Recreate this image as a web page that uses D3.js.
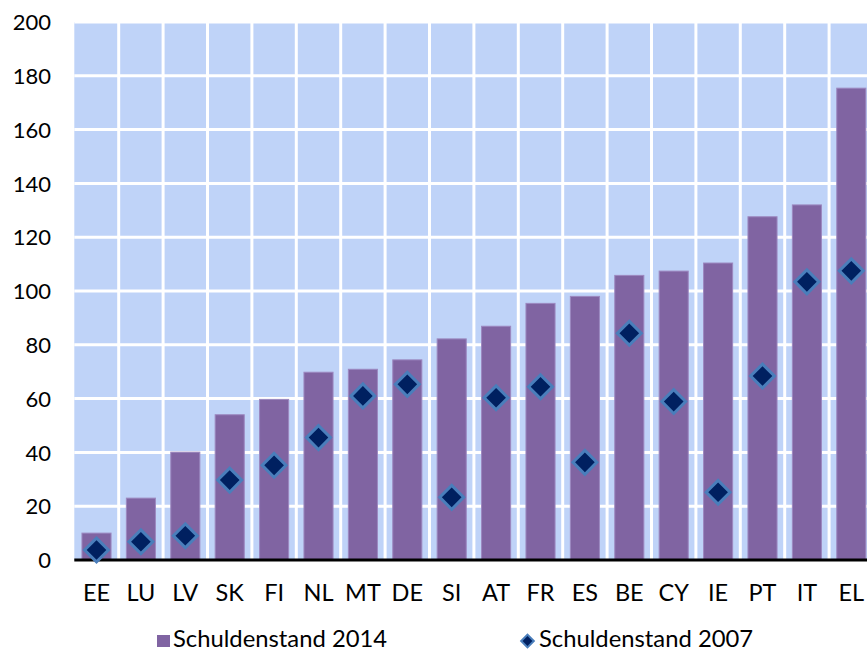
<!DOCTYPE html>
<html>
<head>
<meta charset="utf-8">
<script src="https://cdn.jsdelivr.net/npm/d3@7"></script>
<style>
  html, body { margin: 0; padding: 0; background: #ffffff; }
  svg { display: block; }
  text { font-family: "Lato", "Open Sans", sans-serif; fill: #000; }
</style>
</head>
<body>
<svg id="chart" width="867" height="652"></svg>
<script>
const categories = ["EE","LU","LV","SK","FI","NL","MT","DE","SI","AT","FR","ES","BE","CY","IE","PT","IT","EL"];
const debt2014 = [10, 23, 40.1, 54, 59.7, 69.8, 70.9, 74.4, 82.2, 86.9, 95.4, 98, 105.8, 107.4, 110.4, 127.6, 132, 175.4];
const debt2007 = [3.7, 6.8, 9, 29.7, 35.2, 45.5, 61, 65.3, 23.3, 60.3, 64.4, 36.3, 84.3, 58.9, 25.2, 68.4, 103.4, 107.5];
const yTicks = [0, 20, 40, 60, 80, 100, 120, 140, 160, 180, 200];
const seriesNames = ["Schuldenstand 2014", "Schuldenstand 2007"];

const svg = d3.select("#chart");
const W = 867, H = 652;
const plotLeft = 74.3, step = 44.4;
const x = d3.scaleBand().domain(categories)
  .range([plotLeft, plotLeft + step * categories.length])
  .paddingInner(0.345).paddingOuter(0.1725);
const y = d3.scaleLinear().domain([0, 200]).range([560, 22]);

// background
svg.append("rect")
  .attr("x", plotLeft).attr("y", y(200))
  .attr("width", W - plotLeft).attr("height", y(0) - y(200))
  .attr("fill", "#BFD3F8");

// horizontal gridlines
svg.append("g").selectAll("line").data(yTicks.filter(t => t > 0)).join("line")
  .attr("x1", plotLeft).attr("x2", W)
  .attr("y1", d => y(d)).attr("y2", d => y(d))
  .attr("stroke", "#fff").attr("stroke-width", 3);

// vertical gridlines at category boundaries
const bounds = categories.slice(1).map(c => x(c) - x.step() * x.paddingInner() / 2);
svg.append("g").selectAll("line").data(bounds).join("line")
  .attr("x1", d => d).attr("x2", d => d)
  .attr("y1", y(200)).attr("y2", y(0))
  .attr("stroke", "#fff").attr("stroke-width", 3);

// bars
svg.append("g").selectAll("rect").data(categories).join("rect")
  .attr("x", (c) => x(c))
  .attr("y", (c, i) => y(debt2014[i]))
  .attr("width", x.bandwidth())
  .attr("height", (c, i) => y(0) - y(debt2014[i]))
  .attr("fill", "#8064A2")
  .attr("stroke", "#9C88C0").attr("stroke-width", 1);

// x axis line
svg.append("line")
  .attr("x1", plotLeft).attr("x2", W)
  .attr("y1", y(0)).attr("y2", y(0))
  .attr("stroke", "#000").attr("stroke-width", 3);

// diamonds
const diamond = d3.symbol().type(d3.symbolSquare).size(285);
svg.append("g").selectAll("path").data(categories).join("path")
  .attr("d", diamond)
  .attr("transform", (c, i) => `translate(${x(c) + x.bandwidth() / 2},${y(debt2007[i])}) rotate(45)`)
  .attr("fill", "#002060")
  .attr("stroke", "#4A7EBB").attr("stroke-width", 3);

// y axis labels
const yAxis = d3.axisLeft(y).tickValues(yTicks).tickSize(0).tickPadding(0);
const gy = svg.append("g").attr("transform", "translate(51,0)").call(yAxis);
gy.select(".domain").remove();
gy.selectAll("text").attr("font-size", 22).attr("font-family", "Lato, sans-serif").attr("fill", "#000").attr("dy", "0.35em");

// x axis labels
const xAxis = d3.axisBottom(x).tickSize(0).tickPadding(0);
const gx = svg.append("g").attr("transform", `translate(0,${y(0)})`).call(xAxis);
gx.select(".domain").remove();
gx.selectAll("text").attr("font-size", 23.5).attr("font-family", "Lato, sans-serif").attr("fill", "#000")
  .attr("dy", null).attr("y", 40.5);

// legend
const lg = svg.append("g");
lg.append("rect").attr("x", 157).attr("y", 635).attr("width", 13).attr("height", 12).attr("fill", "#8064A2");
lg.append("text").attr("x", 173).attr("y", 647).attr("font-size", 23.8).text(seriesNames[0]);
lg.append("path").attr("d", d3.symbol().type(d3.symbolSquare).size(80))
  .attr("transform", "translate(527.5,641) rotate(45)")
  .attr("fill", "#002060").attr("stroke", "#4A7EBB").attr("stroke-width", 2);
lg.append("text").attr("x", 539).attr("y", 647).attr("font-size", 23.8).text(seriesNames[1]);
</script>
</body>
</html>
